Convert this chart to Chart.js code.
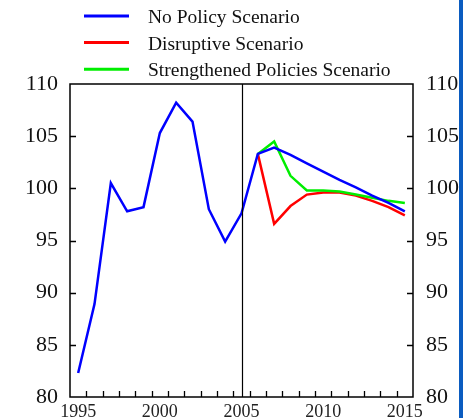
<!DOCTYPE html>
<html>
<head>
<meta charset="utf-8">
<script src="https://cdn.jsdelivr.net/npm/chart.js@4.4.1/dist/chart.umd.min.js"></script>
<style>
  body { margin: 0; background: #fff; }
  #wrap { position: relative; width: 463px; height: 418px; overflow: hidden; }
  #stripe { position: absolute; left: 459px; top: 0; width: 4px; height: 418px; background: #0b5cc0; }
</style>
</head>
<body>
<div id="wrap">
  <canvas id="chartScenarios" width="463" height="418"></canvas>
  <div id="stripe"></div>
</div>
<script>
// ---- données ----
const histYears = [1995, 1996, 1997, 1998, 1999, 2000, 2001, 2002, 2003, 2004, 2005, 2006, 2007, 2008, 2009, 2010, 2011, 2012, 2013, 2014, 2015];
const noPolicy = [82.3, 88.9, 100.5, 97.8, 98.2, 105.3, 108.2, 106.4, 98.0, 94.9, 97.6, 103.3, 103.9, 103.2, 102.4, 101.6, 100.8, 100.1, 99.3, 98.6, 97.8];

const scenYears = [2006, 2007, 2008, 2009, 2010, 2011, 2012, 2013, 2014, 2015];
const disruptive = [103.3, 96.6, 98.3, 99.4, 99.6, 99.6, 99.3, 98.8, 98.2, 97.4];
const strengthened = [103.3, 104.5, 101.2, 99.8, 99.8, 99.7, 99.4, 99.1, 98.8, 98.6];

const xLabels = [1995, 2000, 2005, 2010, 2015];
const yTicks = [80, 85, 90, 95, 100, 105, 110];

const serif = '"Liberation Serif", "DejaVu Serif", serif';

function toPoints(years, values) {
    return years.map(function (yr, i) { return { x: yr, y: values[i] }; });
}

// fixe la taille des axes pour caler la zone du graphe
function fixSize(prop, size) {
    return function (scale) {
        scale[prop] = size;
        scale.paddingTop = 0;
        scale.paddingBottom = 0;
        scale.paddingLeft = 0;
        scale.paddingRight = 0;
    };
}

// cadre, ticks intérieurs, ligne verticale 2005, légende
const framePlugin = {
    id: 'frame',
    afterDatasetsDraw: function (chart) {
        const ctx = chart.ctx;
        const a = chart.chartArea;
        const xs = chart.scales.x;
        const ys = chart.scales.y;
        ctx.save();
        ctx.strokeStyle = '#000';
        ctx.lineWidth = 1.5;
        ctx.strokeRect(a.left, a.top, a.right - a.left, a.bottom - a.top);

        // ligne 2005
        const x05 = Math.round(xs.getPixelForValue(2005)) + 0.5;
        ctx.lineWidth = 1.2;
        ctx.beginPath();
        ctx.moveTo(x05, a.top);
        ctx.lineTo(x05, a.bottom);
        ctx.stroke();

        // ticks x (entre les années)
        ctx.lineWidth = 1.3;
        ctx.beginPath();
        for (let v = 1995.5; v < 2015; v += 1) {
            const px = Math.round(xs.getPixelForValue(v)) + 0.5;
            ctx.moveTo(px, a.bottom);
            ctx.lineTo(px, a.bottom - 6);
        }
        // ticks y gauche et droite
        yTicks.slice(1, -1).forEach(function (v) {
            const py = Math.round(ys.getPixelForValue(v)) + 0.5;
            ctx.moveTo(a.left, py);
            ctx.lineTo(a.left + 6, py);
            ctx.moveTo(a.right, py);
            ctx.lineTo(a.right - 6, py);
        });
        ctx.stroke();
        ctx.restore();
    },
    afterDraw: function (chart) {
        const ctx = chart.ctx;
        ctx.save();
        ctx.font = '19.5px ' + serif;
        ctx.textBaseline = 'middle';
        ctx.fillStyle = '#111';
        chart.data.datasets.forEach(function (ds, i) {
            const y = 16 + i * 26.6;
            ctx.strokeStyle = ds.borderColor;
            ctx.lineWidth = 3;
            ctx.beginPath();
            ctx.moveTo(84, y);
            ctx.lineTo(129, y);
            ctx.stroke();
            ctx.fillText(ds.label, 148, y + 2);
        });
        ctx.restore();
    }
};

const ctx = document.getElementById('chartScenarios').getContext('2d');
new Chart(ctx, {
    type: 'line',
    data: {
        datasets: [{
            label: 'No Policy Scenario',
            data: toPoints(histYears, noPolicy),
            borderColor: '#0000ff',
            borderWidth: 2.5,
            pointRadius: 0,
            order: 1
        }, {
            label: 'Disruptive Scenario',
            data: toPoints(scenYears, disruptive),
            borderColor: '#ff0000',
            borderWidth: 2.5,
            pointRadius: 0,
            order: 3
        }, {
            label: 'Strengthened Policies Scenario',
            data: toPoints(scenYears, strengthened),
            borderColor: '#00ee00',
            borderWidth: 2.5,
            pointRadius: 0,
            order: 2
        }]
    },
    options: {
        responsive: false,
        animation: false,
        devicePixelRatio: 1,
        layout: { padding: { top: 84, left: 0, right: 0, bottom: 0 } },
        plugins: {
            legend: { display: false },
            tooltip: { enabled: false }
        },
        scales: {
            x: {
                type: 'linear',
                min: 1994.5,
                max: 2015.5,
                grid: { display: false, drawTicks: false },
                border: { display: false },
                afterBuildTicks: function (scale) {
                    scale.ticks = xLabels.map(function (v) { return { value: v }; });
                },
                afterFit: fixSize('height', 21),
                ticks: {
                    padding: 4,
                    maxRotation: 0,
                    autoSkip: false,
                    color: '#222',
                    font: { family: serif, size: 18 },
                    callback: function (v) { return String(v); }
                }
            },
            y: {
                position: 'left',
                min: 80,
                max: 110,
                grid: { display: false, drawTicks: false },
                border: { display: false },
                afterBuildTicks: function (scale) {
                    scale.ticks = yTicks.map(function (v) { return { value: v }; });
                },
                afterFit: fixSize('width', 70),
                ticks: {
                    padding: 12,
                    color: '#111',
                    font: { family: serif, size: 22 },
                    callback: function (v) { return String(v); }
                }
            },
            y2: {
                position: 'right',
                min: 80,
                max: 110,
                grid: { display: false, drawTicks: false },
                border: { display: false },
                afterBuildTicks: function (scale) {
                    scale.ticks = yTicks.map(function (v) { return { value: v }; });
                },
                afterFit: fixSize('width', 50),
                ticks: {
                    padding: 13,
                    color: '#111',
                    font: { family: serif, size: 22 },
                    callback: function (v) { return String(v); }
                }
            }
        }
    },
    plugins: [framePlugin]
});
</script>
</body>
</html>
